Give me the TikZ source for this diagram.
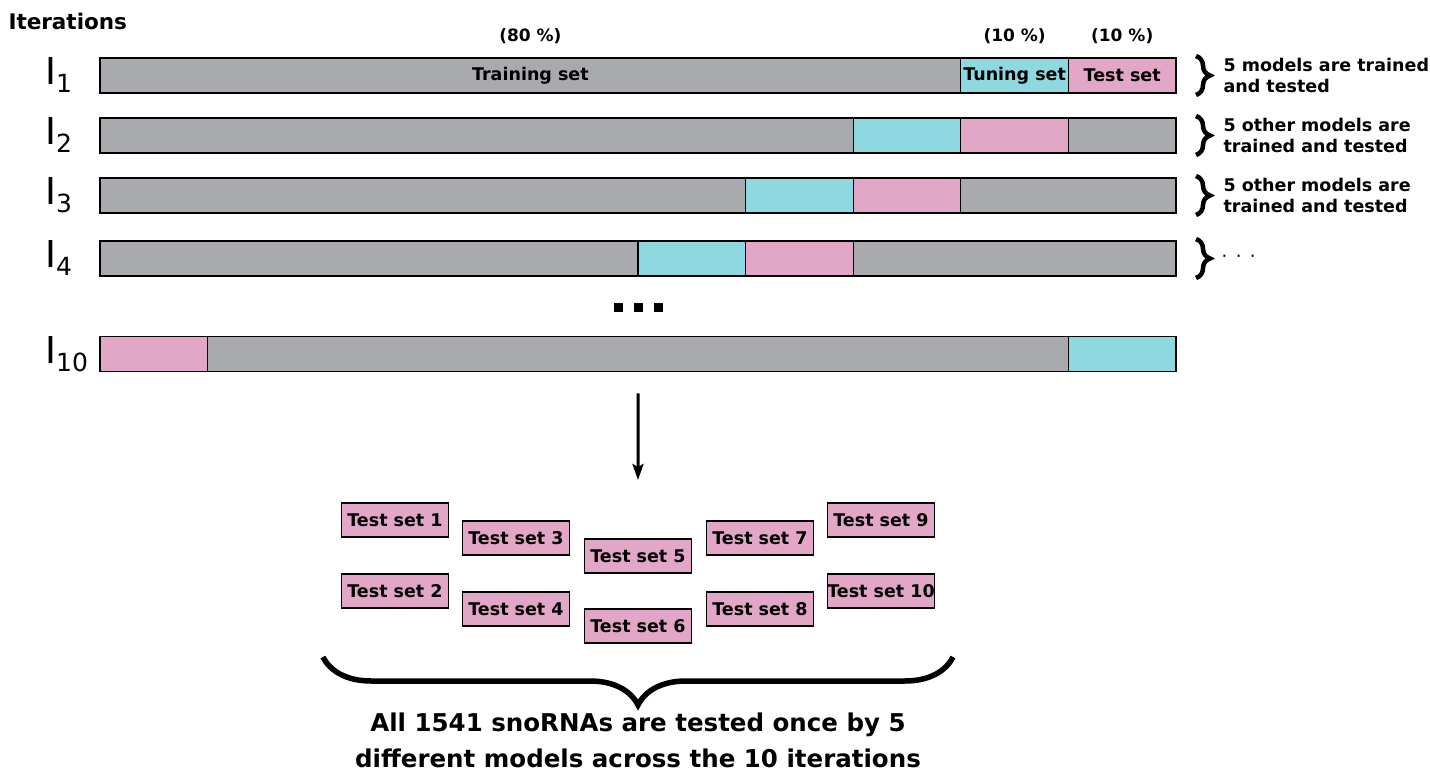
\documentclass[tikz,border=0pt]{standalone}
\usepackage{fontspec}
\setmainfont{DejaVu Sans}
\usetikzlibrary{arrows.meta, positioning, decorations.pathreplacing}
\definecolor{cGray}{RGB}{169,170,174}
\definecolor{cCyan}{RGB}{142,217,224}
\definecolor{cPink}{RGB}{226,166,199}
\newcommand{\segu}{107.6pt}
\newcommand{\itlabel}[1]{{\fontsize{37}{37}\selectfont I}\raisebox{-8pt}{\fontsize{25}{25}\selectfont #1}}
\tikzset{
	seg/.style     ={rectangle, draw=black, line width=1.2pt, minimum height=35pt, inner sep=0pt, outer sep=0pt, font=\bfseries\fontsize{17.5}{17.5}\selectfont},
	trainseg/.style={seg, fill=cGray},
	tuneseg/.style ={seg, fill=cCyan},
	testseg/.style ={seg, fill=cPink},
	pct/.style     ={font=\bfseries\fontsize{17}{17}\selectfont},
	note/.style    ={anchor=west, align=left, font=\bfseries\fontsize{17.5}{21}\selectfont},
	rbrace/.style  ={decorate, decoration={brace, amplitude=14pt}, line width=4.5pt},
	% test set boxes below the arrow
	tsbox/.style   ={rectangle, draw=black, line width=1.2pt, fill=cPink, minimum width=107pt, minimum height=34pt, inner sep=0pt, font=\bfseries\fontsize{17.5}{17.5}\selectfont},
	sig/.style     ={-{Stealth[length=16pt, width=11pt, inset=3pt]}, line width=3pt},
}
\begin{document}
\begin{tikzpicture}[x=1pt, y=-1pt]
	\useasboundingbox (0,0) rectangle (1430,775);
	\node[anchor=west, font=\bfseries\fontsize{21.5}{22}\selectfont] (iter) at (5,21) {Iterations};
	% iteration 1
	\node[trainseg, minimum width=8*\segu, anchor=west] (tr1) at (100,75.5) {Training set};
	\node[tuneseg, minimum width=\segu, right=0pt of tr1] (tu1) {Tuning set};
	\node[testseg, minimum width=\segu, right=0pt of tu1] (te1) {Test set};
	\node[pct, above=11pt of tr1] (p80) {(80 \%)};
	\node[pct, above=11pt of tu1] (p10a) {(10 \%)};
	\node[pct, above=11pt of te1] (p10b) {(10 \%)};
	% iterations 2 to 4
	\foreach \r/\k/\y in {2/7/135.5, 3/6/195.5, 4/5/258.5} {
		\node[trainseg, minimum width=\k*\segu, anchor=west] (tr\r) at (100,\y) {};
		\node[tuneseg, minimum width=\segu, right=0pt of tr\r] (tu\r) {};
		\node[testseg, minimum width=\segu, right=0pt of tu\r] (te\r) {};
		\node[trainseg, minimum width={(8-\k)*\segu}, right=0pt of te\r] (rs\r) {};
	}
	% iteration 10
	\node[testseg, minimum width=\segu, anchor=west] (te10) at (100,354) {};
	\node[trainseg, minimum width=8*\segu, right=0pt of te10] (tr10) {};
	\node[tuneseg, minimum width=\segu, right=0pt of tr10] (tu10) {};
	% row labels
	\foreach \r/\y in {1/58, 2/118, 3/178, 4/241, 10/337}
		\node[anchor=base west, inner sep=0pt] (lab\r) at (45,\y+27) {\itlabel{\r}};
	% braces and notes
	\foreach \y in {58, 118, 178, 241}
		\draw[rbrace] (1196,\y-2) -- (1196,\y+37);
	\node[note] (n1) at (1220,75.5) {5 models are trained\\and tested};
	\node[note] (n2) at (1220,135.5) {5 other models are\\trained and tested};
	\node[note] (n3) at (1220,195.5) {5 other models are\\trained and tested};
	\node[anchor=west, font=\fontsize{18}{18}\selectfont] (n4) at (1218,258.5) {·\hspace{8.5pt}·\hspace{8.5pt}·};
	\foreach \x in {618,638,658}
		\fill (\x-4.5,303.5) rectangle (\x+4.5,312.5);
	% arrow down to the test sets
	\coordinate (arrend) at (638,480);
	\draw[sig] ([yshift=-22pt]tr10.south) -- (arrend);
	\foreach \n/\x/\y in {1/395/520, 2/395/591, 3/516/538, 4/516/609, 5/638/556, 6/638/626, 7/760/538, 8/760/609, 9/881/520, 10/881/591}
		\node[tsbox] (ts\n) at (\x,\y) {Test set \n};
	\draw[decorate, decoration={brace, amplitude=48pt}, line width=5.5pt] (953,657) -- (323,657);
	\node[font=\bfseries\fontsize{24.5}{36}\selectfont, align=center] (cap) at (638,740) {All 1541 snoRNAs are tested once by 5\\different models across the 10 iterations};
\end{tikzpicture}
\end{document}
